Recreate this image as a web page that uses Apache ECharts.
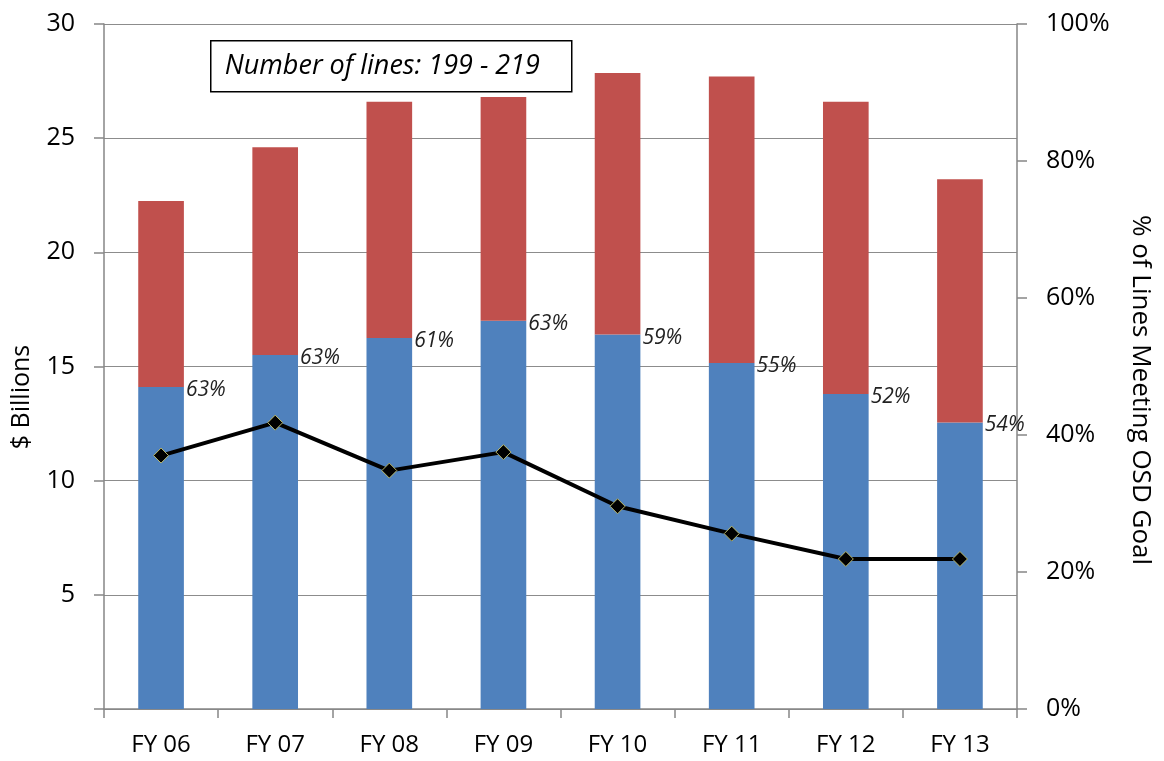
<!DOCTYPE html>
<html>
<head>
<meta charset="utf-8">
<script src="https://cdn.jsdelivr.net/npm/echarts@6/dist/echarts.min.js"></script>
<style>
html,body{margin:0;padding:0;background:#fff;}
#chart{width:1164px;height:761px;}
</style>
</head>
<body>
<div id="chart"></div>
<script>
const categories = ['FY 06','FY 07','FY 08','FY 09','FY 10','FY 11','FY 12','FY 13'];
const meetingGoal = [14.1, 15.5, 16.25, 17.0, 16.4, 15.15, 13.8, 12.55];
const notMeetingGoal = [8.15, 9.1, 10.35, 9.8, 11.45, 12.55, 12.8, 10.65];
const shareLabels = [63, 63, 61, 63, 59, 55, 52, 54];
const pctLinesMeeting = [37, 41.8, 34.8, 37.5, 29.6, 25.6, 21.9, 21.9];
const leftTicks = [0, 5, 10, 15, 20, 25, 30];
const rightTicks = [0, 20, 40, 60, 80, 100];
const leftAxisName = '$ Billions';
const rightAxisName = '% of Lines Meeting OSD Goal';
const noteText = 'Number of lines: 199 - 219';

const FONT = '"Open Sans", "Liberation Sans", sans-serif';
const chart = echarts.init(document.getElementById('chart'));
chart.setOption({
  animation: false,
  backgroundColor: '#fff',
  textStyle: { fontFamily: FONT },
  grid: { left: 104, right: 147, top: 24, bottom: 52, containLabel: false },
  xAxis: {
    type: 'category',
    data: categories,
    boundaryGap: true,
    axisLine: { lineStyle: { color: '#868686', width: 1.5 } },
    axisTick: { show: true, length: 9, alignWithLabel: false, lineStyle: { color: '#868686', width: 1.5 } },
    axisLabel: { color: '#000', fontSize: 24, margin: 24, fontFamily: FONT }
  },
  yAxis: [
    {
      type: 'value',
      min: leftTicks[0],
      max: leftTicks[leftTicks.length - 1],
      interval: 5,
      axisLine: { show: true, lineStyle: { color: '#868686', width: 1.5 } },
      axisTick: { show: true, length: 10, lineStyle: { color: '#868686', width: 1.5 } },
      axisLabel: {
        color: '#000', fontSize: 25, margin: 29, fontFamily: FONT,
        formatter: v => (v === 0 ? '' : String(v))
      },
      splitLine: { show: true, lineStyle: { color: '#8c8c8c', width: 1.2 } }
    },
    {
      type: 'value',
      min: rightTicks[0],
      max: rightTicks[rightTicks.length - 1],
      interval: 20,
      position: 'right',
      axisLine: { show: true, lineStyle: { color: '#868686', width: 1.5 } },
      axisTick: { show: true, length: 10, lineStyle: { color: '#868686', width: 1.5 } },
      axisLabel: { color: '#000', fontSize: 25, margin: 29, fontFamily: FONT, formatter: '{value}%' },
      splitLine: { show: false }
    }
  ],
  series: [
    {
      name: 'Meeting',
      type: 'bar',
      stack: 'total',
      barWidth: '40%',
      data: meetingGoal,
      itemStyle: { color: '#4F81BD' },
      label: {
        show: true,
        position: ['100%', 0],
        align: 'left',
        verticalAlign: 'middle',
        offset: [2, 3],
        fontStyle: 'italic',
        fontSize: 21,
        color: '#222',
        fontFamily: FONT,
        formatter: p => shareLabels[p.dataIndex] + '%'
      },
      z: 2
    },
    {
      name: 'Not meeting',
      type: 'bar',
      stack: 'total',
      barWidth: '40%',
      data: notMeetingGoal,
      itemStyle: { color: '#C0504D' },
      z: 2
    },
    {
      name: '% Lines',
      type: 'line',
      yAxisIndex: 1,
      data: pctLinesMeeting,
      symbol: 'diamond',
      symbolSize: 15,
      lineStyle: { color: '#000', width: 4 },
      itemStyle: { color: '#000', borderColor: '#b9b86a', borderWidth: 1 },
      z: 5
    }
  ],
  graphic: [
    {
      type: 'group',
      left: 210,
      top: 40,
      children: [
        { type: 'rect', shape: { x: 0, y: 0, width: 361, height: 51 },
          style: { fill: '#fff', stroke: '#000', lineWidth: 1.5 } },
        { type: 'text', x: 14, y: 26,
          style: { text: noteText, fontSize: 27, fontStyle: 'italic',
                   fontFamily: FONT, fill: '#000', verticalAlign: 'middle' } }
      ]
    },
    {
      type: 'text', x: 22, y: 397, rotation: Math.PI / 2,
      style: { text: leftAxisName, fontSize: 25, fontFamily: FONT, fill: '#000',
               align: 'center', verticalAlign: 'middle' }
    },
    {
      type: 'text', x: 1140, y: 390, rotation: -Math.PI / 2,
      style: { text: rightAxisName, fontSize: 26, fontFamily: FONT, fill: '#000',
               align: 'center', verticalAlign: 'middle' }
    }
  ]
});
</script>
</body>
</html>
